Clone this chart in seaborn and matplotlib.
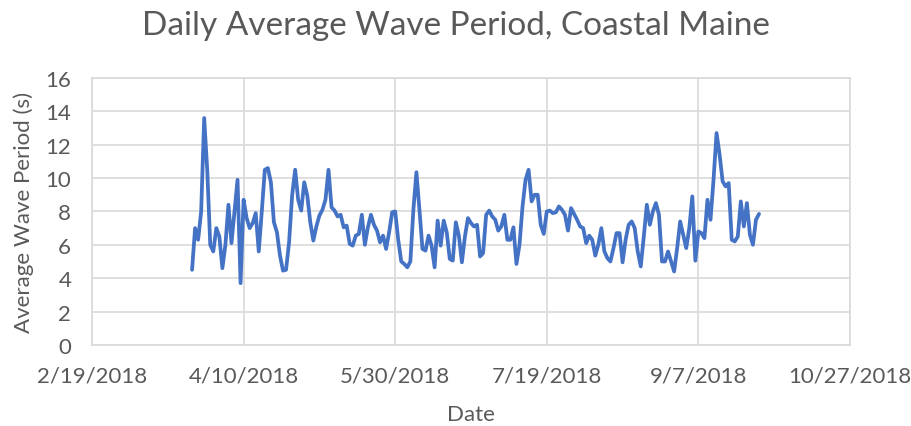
import matplotlib

matplotlib.use('Agg')
import matplotlib.pyplot as plt
import numpy as np
import pandas as pd
import seaborn as sns

# daily average wave period (s), one value per day from 3/24/2018
start_date = '2018-03-24'
wave_period = [
    4.5, 7.0, 6.3, 8.0, 13.6, 10.5, 6.0, 5.6, 7.0, 6.5,
    4.6, 6.0, 8.4, 6.1, 8.0, 9.9, 3.7, 8.7, 7.6, 7.0,
    7.3, 7.9, 5.6, 8.0, 10.5, 10.6, 9.75, 7.35, 6.75, 5.35,
    4.45, 4.5, 6.15, 8.95, 10.5, 8.7, 8.05, 9.75, 8.95, 7.35,
    6.25, 7.1, 7.75, 8.1, 8.7, 10.5, 8.25, 8.05, 7.7, 7.8,
    7.05, 7.15, 6.05, 5.95, 6.55, 6.65, 7.8, 6.0, 7.05, 7.8,
    7.2, 6.85, 6.15, 6.55, 5.75, 6.75, 7.95, 8.0, 6.3, 5.0,
    4.85, 4.65, 5.0, 8.1, 10.35, 8.1, 5.75, 5.65, 6.55, 5.95,
    4.65, 7.45, 5.95, 7.45, 6.75, 5.15, 5.05, 7.35, 6.55, 4.95,
    6.5, 7.6, 7.3, 7.1, 7.2, 5.3, 5.5, 7.8, 8.05, 7.7,
    7.5, 6.85, 7.1, 7.8, 6.3, 6.3, 7.05, 4.85, 6.0, 8.3,
    9.9, 10.5, 8.6, 9.0, 9.0, 7.2, 6.65, 8.0, 8.05, 7.9,
    7.95, 8.3, 8.1, 7.8, 6.85, 8.2, 7.85, 7.5, 7.1, 7.0,
    6.1, 6.55, 6.3, 5.35, 6.0, 7.0, 5.6, 5.2, 5.0, 5.8,
    6.7, 6.7, 4.95, 6.3, 7.2, 7.4, 7.0, 5.6, 4.7, 6.5,
    8.4, 7.2, 8.0, 8.5, 7.8, 5.0, 5.0, 5.6, 5.0, 4.4,
    5.8, 7.4, 6.6, 5.8, 7.0, 8.9, 5.05, 6.8, 6.7, 6.4,
    8.7, 7.5, 9.9, 12.7, 11.4, 9.8, 9.5, 9.7, 6.3, 6.2,
    6.5, 8.6, 7.1, 8.5, 6.6, 6.0, 7.5, 7.85,
]
tick_dates = ['2018-02-19', '2018-04-10', '2018-05-30', '2018-07-19', '2018-09-07', '2018-10-27']
tick_labels = ['2/19/2018', '4/10/2018', '5/30/2018', '7/19/2018', '9/7/2018', '10/27/2018']
y_ticks = [0, 2, 4, 6, 8, 10, 12, 14, 16]

df = pd.DataFrame({
    'date': pd.date_range(start_date, periods=len(wave_period), freq='D'),
    'period': wave_period,
})

sns.set_theme(style='whitegrid')
plt.rcParams['font.family'] = ['Lato', 'DejaVu Sans']

text_col = '#595959'
grid_col = '#d9d9d9'

fig = plt.figure(figsize=(9.11, 4.27), dpi=100)
ax = fig.add_axes([0.101, 0.19, 0.832, 0.625])

sns.lineplot(data=df, x='date', y='period', color='#4472C4', linewidth=2.7, ax=ax,
             solid_joinstyle='round', solid_capstyle='round')

ticks = pd.to_datetime(tick_dates)
ax.set_xlim(ticks[0], ticks[-1])
ax.set_xticks(ticks)
ax.set_xticklabels(tick_labels)
ax.set_ylim(0, 16)
ax.set_yticks(y_ticks)

ax.grid(True, color=grid_col, linewidth=1.2)
for side in ax.spines.values():
    side.set_color(grid_col)
    side.set_linewidth(1.2)
ax.tick_params(axis='both', length=0, labelsize=16, labelcolor=text_col)
ax.tick_params(axis='x', pad=15)
ax.tick_params(axis='y', pad=15)

# Excel centres the title on the whole chart, not on the plot area
fig.suptitle('Daily Average Wave Period, Coastal Maine', x=0.5, y=0.975, va='top',
             fontsize=24, color=text_col)
ax.set_xlabel('Date', fontsize=16, color=text_col, labelpad=13)
ax.set_ylabel('Average Wave Period (s)', fontsize=16, color=text_col, labelpad=8)

fig.savefig('out.png', dpi=100)
